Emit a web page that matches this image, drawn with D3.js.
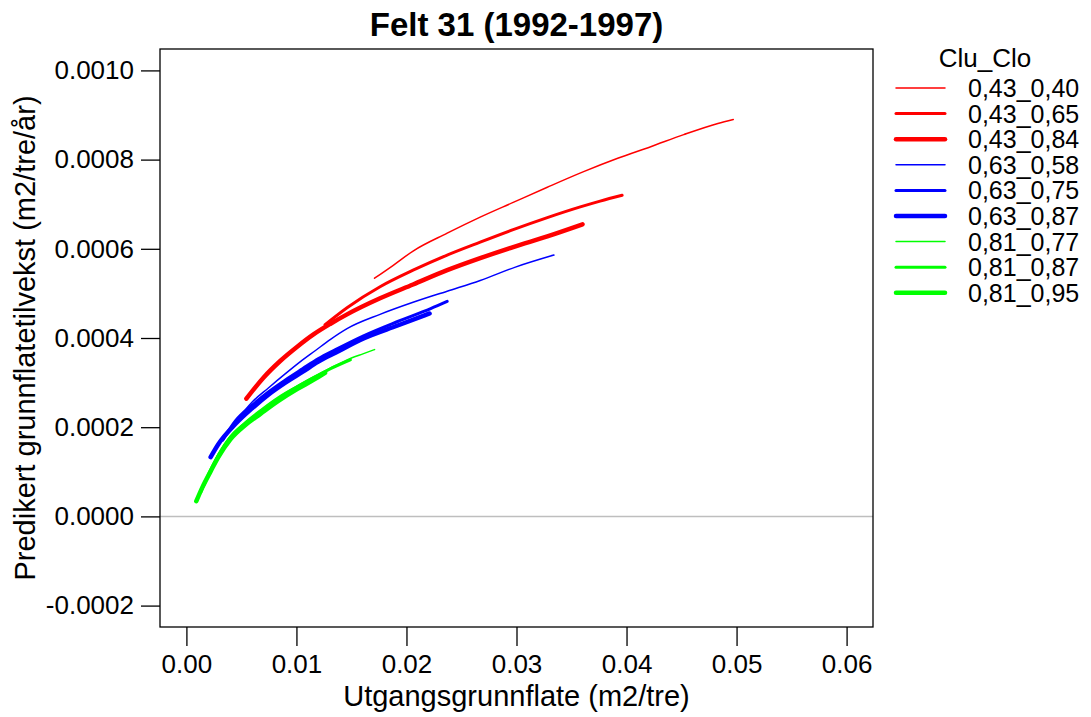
<!DOCTYPE html>
<html>
<head>
<meta charset="utf-8">
<script src="https://cdn.jsdelivr.net/npm/d3@7"></script>
<style>
  html, body { margin: 0; padding: 0; background: #ffffff; }
  svg { display: block; }
  text { font-family: "Liberation Sans", Arial, sans-serif; fill: #000; }
</style>
</head>
<body>
<svg id="chart" width="1091" height="717"></svg>
<script>
// Predicted basal area growth per tree (m2/tree/year) against initial basal area (m2/tree),
// one curve per Clu_Clo combination.
const title = "Felt 31 (1992-1997)";
const xLabel = "Utgangsgrunnflate (m2/tre)";
const yLabel = "Predikert grunnflatetilvekst (m2/tre/år)";
const legendTitle = "Clu_Clo";

const xTicks = [0.00, 0.01, 0.02, 0.03, 0.04, 0.05, 0.06];
const yTicks = [-0.0002, 0.0000, 0.0002, 0.0004, 0.0006, 0.0008, 0.0010];

const groups = ["0,43_0,40", "0,43_0,65", "0,43_0,84",
                "0,63_0,58", "0,63_0,75", "0,63_0,87",
                "0,81_0,77", "0,81_0,87", "0,81_0,95"];
const groupColors = ["#ff0000", "#ff0000", "#ff0000",
                     "#0000ff", "#0000ff", "#0000ff",
                     "#00ff00", "#00ff00", "#00ff00"];
const groupWidths = [1.5, 3, 4.5, 1.5, 3, 4.5, 1.5, 3, 4.5];

// 0,43_0,40
const ba_43_40 = [0.0171, 0.0188, 0.0206, 0.0237, 0.0267, 0.0297, 0.0328, 0.0361, 0.0392, 0.0422, 0.0452, 0.0483, 0.0497];
const gr_43_40 = [0.000534, 0.000563, 0.000595, 0.000635, 0.000671, 0.000704, 0.000738, 0.000773, 0.000803, 0.000829, 0.000856, 0.000881, 0.000890];
// 0,43_0,65
const ba_43_65 = [0.0126, 0.0146, 0.0176, 0.0206, 0.0237, 0.0267, 0.0297, 0.0328, 0.0358, 0.0376, 0.0396];
const gr_43_65 = [0.000430, 0.000468, 0.000515, 0.000552, 0.000586, 0.000615, 0.000643, 0.000670, 0.000694, 0.000707, 0.000720];
// 0,43_0,84
const ba_43_84 = [0.00545, 0.0070, 0.00855, 0.0101, 0.01155, 0.0131, 0.0146, 0.0176, 0.0206, 0.0237, 0.0267, 0.0297, 0.0328, 0.0360];
const gr_43_84 = [0.000264, 0.000311, 0.000349, 0.000381, 0.000408, 0.000432, 0.000453, 0.000489, 0.000520, 0.000552, 0.000579, 0.000604, 0.000628, 0.000655];
// 0,63_0,58
const ba_63_58 = [0.0042, 0.0060, 0.00745, 0.0090, 0.01036, 0.01173, 0.0131, 0.0146, 0.0176, 0.0206, 0.0237, 0.0267, 0.0299, 0.0334];
const gr_63_58 = [0.000203, 0.000257, 0.000288, 0.000320, 0.000347, 0.000372, 0.000397, 0.000421, 0.000453, 0.000480, 0.000505, 0.000529, 0.000559, 0.000586];
// 0,63_0,75
const ba_63_75 = [0.0033, 0.00445, 0.0060, 0.00745, 0.0090, 0.01055, 0.0120, 0.01355, 0.0161, 0.0192, 0.0222, 0.0237];
const gr_63_75 = [0.000171, 0.000214, 0.000250, 0.000279, 0.000306, 0.000331, 0.000354, 0.000374, 0.000405, 0.000437, 0.000466, 0.000482];
// 0,63_0,87
const ba_63_87 = [0.0022, 0.0029, 0.00445, 0.0060, 0.00745, 0.0090, 0.01055, 0.0120, 0.01355, 0.0161, 0.0192, 0.0221];
const gr_63_87 = [0.000133, 0.000162, 0.000207, 0.000243, 0.000273, 0.000300, 0.000324, 0.000347, 0.000367, 0.000399, 0.000428, 0.000455];
// 0,81_0,77
const ba_81_77 = [0.0017, 0.0029, 0.0040, 0.00536, 0.00673, 0.00836, 0.0101, 0.01155, 0.0131, 0.0146, 0.0161, 0.0171];
const gr_81_77 = [0.000079, 0.000140, 0.000180, 0.000212, 0.000239, 0.000268, 0.000293, 0.000313, 0.000333, 0.000351, 0.000365, 0.000374];
// 0,81_0,87
const ba_81_87 = [0.0013, 0.0022, 0.0029, 0.0040, 0.00536, 0.00673, 0.00836, 0.0101, 0.01155, 0.0131, 0.0149];
const gr_81_87 = [0.000054, 0.000104, 0.000137, 0.000178, 0.000209, 0.000234, 0.000264, 0.000291, 0.000311, 0.000331, 0.000351];
// 0,81_0,95
const ba_81_95 = [0.0009, 0.00145, 0.0022, 0.0029, 0.0040, 0.00536, 0.00673, 0.00836, 0.0101, 0.01155, 0.0126];
const gr_81_95 = [0.000034, 0.000065, 0.000101, 0.000133, 0.000173, 0.000205, 0.000230, 0.000259, 0.000286, 0.000306, 0.000322];

const basal = [ba_43_40, ba_43_65, ba_43_84, ba_63_58, ba_63_75, ba_63_87, ba_81_77, ba_81_87, ba_81_95];
const growth = [gr_43_40, gr_43_65, gr_43_84, gr_63_58, gr_63_75, gr_63_87, gr_81_77, gr_81_87, gr_81_95];

// ---- layout ----
const box = { left: 160, right: 873, top: 49, bottom: 627 };
const svg = d3.select("#chart");
svg.append("rect").attr("width", 1091).attr("height", 717).attr("fill", "#fff");

// axis limits padded by 4% like the usual plotting default
const xPad = (0.06 - 0) * 0.04, yPad = (0.0010 + 0.0002) * 0.04;
const x = d3.scaleLinear().domain([0 - xPad, 0.06 + xPad]).range([box.left, box.right]);
const y = d3.scaleLinear().domain([-0.0002 - yPad, 0.0010 + yPad]).range([box.bottom, box.top]);

// zero reference line
svg.append("line")
  .attr("x1", box.left).attr("x2", box.right)
  .attr("y1", y(0)).attr("y2", y(0))
  .attr("stroke", "#bebebe").attr("stroke-width", 1.5);

// curves
const line = d3.line()
  .x(d => x(d[0])).y(d => y(d[1]))
  .curve(d3.curveMonotoneX);

const curves = svg.append("g").attr("class", "curves");
groups.forEach((g, i) => {
  const pts = basal[i].map((b, j) => [b, growth[i][j]]);
  curves.append("path")
    .datum(pts)
    .attr("d", line)
    .attr("fill", "none")
    .attr("stroke", groupColors[i])
    .attr("stroke-width", groupWidths[i])
    .attr("stroke-linecap", "round")
    .attr("stroke-linejoin", "round");
});

// plot frame
svg.append("rect")
  .attr("x", box.left).attr("y", box.top)
  .attr("width", box.right - box.left).attr("height", box.bottom - box.top)
  .attr("fill", "none").attr("stroke", "#000").attr("stroke-width", 1.3);

// axes
const xAxis = d3.axisBottom(x).tickValues(xTicks)
  .tickFormat(d => d.toFixed(2)).tickSize(19).tickPadding(9);
const gx = svg.append("g").attr("transform", `translate(0,${box.bottom})`).call(xAxis);

const yAxis = d3.axisLeft(y).tickValues(yTicks)
  .tickFormat(d => (Math.abs(d) < 1e-12 ? 0 : d).toFixed(4)).tickSize(19).tickPadding(7);
const gy = svg.append("g").attr("transform", `translate(${box.left},0)`).call(yAxis);

[gx, gy].forEach(g => {
  g.select(".domain").remove();
  g.selectAll(".tick line").attr("stroke", "#000").attr("stroke-width", 1.3);
  g.selectAll(".tick text")
    .attr("fill", "#000")
    .style("font-family", '"Liberation Sans", Arial, sans-serif')
    .style("font-size", "26px");
});

// title and axis titles
svg.append("text")
  .attr("x", (box.left + box.right) / 2).attr("y", 36)
  .attr("text-anchor", "middle")
  .style("font-size", "33px").style("font-weight", "bold")
  .text(title);

svg.append("text")
  .attr("x", (box.left + box.right) / 2).attr("y", 706)
  .attr("text-anchor", "middle")
  .style("font-size", "29px")
  .text(xLabel);

svg.append("text")
  .attr("transform", `translate(35,${(box.top + box.bottom) / 2}) rotate(-90)`)
  .attr("text-anchor", "middle")
  .style("font-size", "29px")
  .text(yLabel);

// legend
const legend = svg.append("g").attr("class", "legend");
legend.append("text")
  .attr("x", 985).attr("y", 67)
  .attr("text-anchor", "middle")
  .style("font-size", "26px")
  .text(legendTitle);

const rowY = i => 88 + i * 25.6;
groups.forEach((g, i) => {
  legend.append("line")
    .attr("x1", 896).attr("x2", 945)
    .attr("y1", rowY(i)).attr("y2", rowY(i))
    .attr("stroke", groupColors[i])
    .attr("stroke-width", groupWidths[i])
    .attr("stroke-linecap", "round");
  legend.append("text")
    .attr("x", 968).attr("y", rowY(i) + 9)
    .style("font-size", "25px")
    .text(g);
});
</script>
</body>
</html>
